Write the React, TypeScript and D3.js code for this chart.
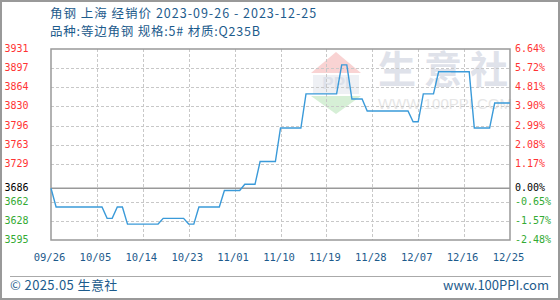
import React from "react";
import * as d3 from "d3";

const titleText = "角钢 上海 经销价 2023-09-26 - 2023-12-25";
const subtitleText = "品种:等边角钢 规格:5# 材质:Q235B";
const footerLeft = "© 2025.05 生意社";
const footerRight = "www.100PPI.com";

const startDate = "2023-09-26";
const dateTicks = ["09/26", "10/05", "10/14", "10/23", "11/01", "11/10", "11/19", "11/28", "12/07", "12/16", "12/25"];
const yTicks = [3931, 3897, 3864, 3830, 3796, 3763, 3729, 3686, 3662, 3628, 3595];
const pctLabels = ["6.64%", "5.72%", "4.81%", "3.90%", "2.99%", "2.08%", "1.17%", "0.00%", "-0.65%", "-1.57%", "-2.48%"];
const baseValue = 3686;
const yMin = 3595;
const yMax = 3931;

// daily price, 2023-09-26 .. 2023-12-25
const prices = [
  3686, 3653, 3653, 3653, 3653, 3653, 3653, 3653, 3653, 3653,
  3653, 3633, 3633, 3653, 3653, 3623, 3623, 3623, 3623, 3623,
  3623, 3623, 3633, 3633, 3633, 3633, 3633, 3623, 3623, 3653,
  3653, 3653, 3653, 3653, 3682, 3682, 3682, 3682, 3693, 3693,
  3693, 3733, 3733, 3733, 3733, 3792, 3792, 3792, 3792, 3792,
  3852, 3852, 3852, 3852, 3852, 3852, 3852, 3903, 3903, 3843,
  3843, 3843, 3822, 3822, 3822, 3822, 3822, 3822, 3822, 3822,
  3822, 3803, 3803, 3852, 3852, 3852, 3891, 3891, 3891, 3891,
  3891, 3891, 3891, 3792, 3792, 3792, 3792, 3836, 3836, 3836,
  3836,
];

const W = 560;
const H = 300;
const plot = { left: 51, right: 510, top: 49, bottom: 240 };

export default function App() {
  const t0 = d3.timeParse("%Y-%m-%d")(startDate) as Date;
  const dates = prices.map((_, i) => d3.timeDay.offset(t0, i));
  const x = d3.scaleTime().domain([dates[0], dates[dates.length - 1]]).range([plot.left, plot.right]);
  const y = d3.scaleLinear().domain([yMin, yMax]).range([plot.bottom, plot.top]);
  const tickDates = dateTicks.map((_, i) => d3.timeDay.offset(t0, i * 9));
  const line = d3
    .line<number>()
    .x((_, i) => x(dates[i]))
    .y((v) => y(v));
  const colorFor = (v: number) => (v > baseValue ? "#ff3333" : v < baseValue ? "#33aa33" : "#000000");
  const mono = "'DejaVu Sans Mono', monospace";
  const cjk = "'Noto Sans CJK SC', 'Noto Sans', sans-serif";
  const blue = "#1d5b8c";

  return (
    <svg
      width={W}
      height={H}
      style={{ position: "absolute", left: 0, top: 0, display: "block", background: "#fff" }}
    >
      <rect x={1} y={1} width={W - 2} height={H - 2} fill="#fff" stroke="#999" strokeWidth={2} />
      <text x={50} y={14.5} fontFamily={cjk} fontSize={12.5} letterSpacing={1} fill={blue} dominantBaseline="middle">
        {titleText}
      </text>
      <text x={50} y={32.5} fontFamily={cjk} fontSize={12.5} letterSpacing={0.8} fill={blue} dominantBaseline="middle">
        {subtitleText}
      </text>

      {/* watermark */}
      <g>
        <path d="M336,52 L361,73 L311,73 Z" fill="#f9d3d3" />
        <rect x={313} y={75} width={46} height={19} fill="#eef0f4" />
        <text x={336} y={85} textAnchor="middle" dominantBaseline="middle" fontFamily="'Liberation Sans'" fontWeight="bold" fontSize={17} fill="#dde1ea">
          PPI
        </text>
        <path d="M311,96 L361,96 L336,114 Z" fill="#d6efd6" />
        <text x={447} y={73} textAnchor="middle" dominantBaseline="middle" fontFamily={cjk} fontWeight="bold" fontSize={38} letterSpacing={8} fill="#dfe2ea">
          生意社
        </text>
        <text x={445} y={105} textAnchor="middle" dominantBaseline="middle" fontFamily="'Liberation Sans'" fontSize={15} fill="#e6e6e6">
          WWW.100PPI.COM
        </text>
      </g>

      {/* grid */}
      {yTicks
        .filter((v) => v !== yMin && v !== yMax && v !== baseValue)
        .map((v) => (
          <line key={"h" + v} x1={plot.left} x2={plot.right} y1={Math.round(y(v)) + 0.5} y2={Math.round(y(v)) + 0.5} stroke="#c8c8c8" strokeDasharray="3,2" />
        ))}
      {tickDates.slice(1, -1).map((d, i) => (
        <line key={"v" + i} x1={Math.round(x(d)) + 0.5} x2={Math.round(x(d)) + 0.5} y1={plot.top} y2={plot.bottom} stroke="#c8c8c8" strokeDasharray="3,2" />
      ))}

      <line x1={plot.left} x2={plot.right} y1={y(baseValue)} y2={y(baseValue)} stroke="#999" strokeWidth={1.5} />
      <rect x={plot.left} y={plot.top} width={plot.right - plot.left} height={plot.bottom - plot.top} fill="none" stroke="#999" strokeWidth={1.5} />

      <path d={line(prices) || ""} fill="none" stroke="#3a9ad9" strokeWidth={1.4} />

      {/* y labels */}
      {yTicks.map((v) => (
        <text key={"l" + v} x={28.5} y={y(v)} textAnchor="end" dominantBaseline="middle" fontFamily={mono} fontSize={10} fill={colorFor(v)}>
          {v}
        </text>
      ))}
      {yTicks.map((v, i) => (
        <text key={"r" + v} x={515} y={y(v)} textAnchor="start" dominantBaseline="middle" fontFamily={mono} fontSize={10} fill={colorFor(v)}>
          {pctLabels[i]}
        </text>
      ))}

      {/* x labels */}
      {tickDates.map((d, i) => (
        <text key={"x" + i} x={x(d) - 1.5} y={258} textAnchor="middle" dominantBaseline="middle" fontFamily={mono} fontSize={10.5} fill={blue}>
          {dateTicks[i]}
        </text>
      ))}

      <line x1={10} x2={551} y1={276.5} y2={276.5} stroke="#aaa" strokeWidth={1} />
      <text x={10} y={286} fontFamily={cjk} fontSize={13} letterSpacing={0.4} fill={blue} dominantBaseline="middle">
        {footerLeft}
      </text>
      <text x={549} y={286} textAnchor="end" fontFamily={cjk} fontSize={13} fill={blue} dominantBaseline="middle">
        {footerRight}
      </text>
    </svg>
  );
}
